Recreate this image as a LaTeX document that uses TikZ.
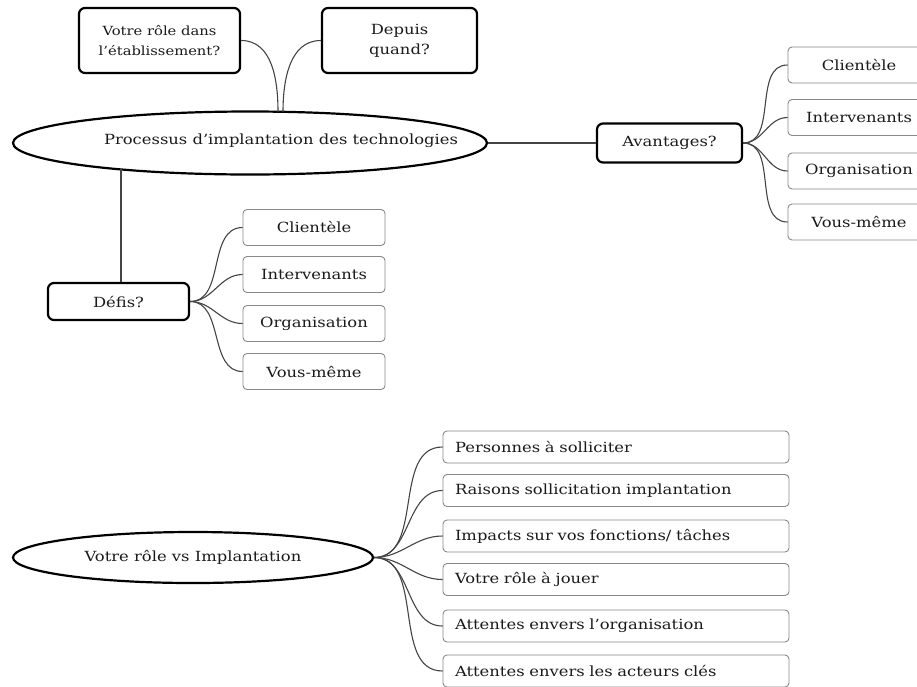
\documentclass[tikz,border=0pt]{standalone}
\usepackage{fontspec}
\setmainfont{DejaVu Serif}[FakeStretch=1.17]
\usetikzlibrary{shapes.geometric}
\definecolor{linkc}{HTML}{444444}
\definecolor{leafc}{HTML}{888888}
\definecolor{txt}{HTML}{1A1A1A}
\begin{document}
\begin{tikzpicture}[x=1pt,y=-1pt,
  every node/.style={text=txt, font=\fontsize{14}{17}\selectfont},
  thickbox/.style={draw=black, line width=2.2pt, rounded corners=6pt, align=center, inner sep=0pt},
  bigell/.style={draw=black, line width=2.2pt, ellipse, inner sep=0pt},
  leafbox/.style={draw=leafc, line width=0.9pt, rounded corners=4pt, minimum width=142pt, minimum height=36pt, inner sep=0pt},
  longbox/.style={draw=leafc, line width=0.9pt, rounded corners=4pt, minimum height=32pt, text width=322pt, inner xsep=12pt, inner ysep=0pt, align=left},
  link/.style={draw=linkc, line width=1.1pt}
]
\useasboundingbox (0,0) rectangle (917,686);
\clip (0,0) rectangle (917,686);

% top questions
\node[thickbox, minimum width=161pt, minimum height=65pt, font=\fontsize{12.6}{20}\selectfont] (role) at (159.5,40.5) {Votre rôle dans\\l'établissement?};
\node[thickbox, minimum width=155pt, minimum height=65pt, font=\fontsize{14}{20}\selectfont] (depuis) at (399.5,40.5) {Depuis\\quand?};

% main ellipse
\node[bigell, minimum width=474pt, minimum height=63pt] (proc) at (250,143) {};
\node (proctxt) at (281,141) {Processus d'implantation des technologies};

\coordinate (pa) at (278,112);
\coordinate (pb) at (283,112);
\draw[link] (role.east) to[out=0,in=90] (pa);
\draw[link] (depuis.west) to[out=180,in=90] (pb);

% Defis
\node[thickbox, minimum width=141pt, minimum height=37pt] (defis) at (118.5,301.5) {Défis?};
\draw[link] (defis.north -| 121,0) -- (121,169);

\node[leafbox] (dc) at (314,227.5) {Clientèle};
\node[leafbox] (di) at (314,274.5) {Intervenants};
\node[leafbox] (do) at (314,323.5) {Organisation};
\node[leafbox] (dv) at (314,371.5) {Vous-même};
\foreach \n in {dc,di,do,dv}{\draw[link] (defis.east) to[out=0,in=180] (\n.west);}

% Avantages
\node[thickbox, minimum width=145pt, minimum height=39pt] (av) at (669.5,143) {Avantages?};
\draw[link] (proc.east) -- (av.west);

\node[leafbox] (ac) at (859,65) {Clientèle};
\node[leafbox] (ai) at (859,117.5) {Intervenants};
\node[leafbox] (ao) at (859,171) {Organisation};
\node[leafbox] (avm) at (859,222) {Vous-même};
\foreach \n in {ac,ai,ao,avm}{\draw[link] (av.east) to[out=0,in=180] (\n.west);}

% bottom
\node[bigell, minimum width=360pt, minimum height=51pt] (vr) at (193,557.5) {Votre rôle vs Implantation};

\node[longbox] (b1) at (616,447) {Personnes à solliciter};
\node[longbox] (b2) at (616,490.5) {Raisons sollicitation implantation};
\node[longbox] (b3) at (616,536) {Impacts sur vos fonctions/ tâches};
\node[longbox] (b4) at (616,579.5) {Votre rôle à jouer};
\node[longbox] (b5) at (616,626) {Attentes envers l'organisation};
\node[longbox] (b6) at (616,671) {Attentes envers les acteurs clés};
\foreach \n in {b1,b2,b3,b4,b5,b6}{\draw[link] (vr.east) to[out=0,in=180] (\n.west);}
\end{tikzpicture}
\end{document}
